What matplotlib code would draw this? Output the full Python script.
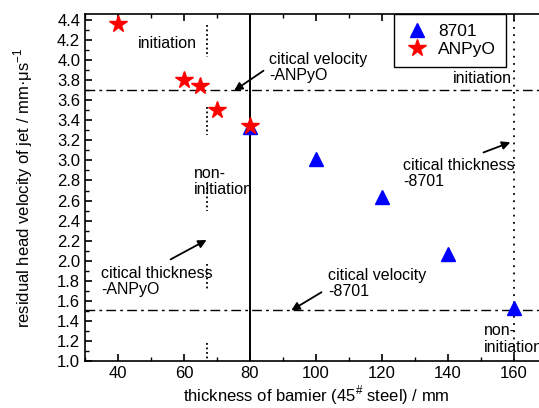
import matplotlib
matplotlib.use("Agg")
import matplotlib.pyplot as plt
from matplotlib.ticker import MultipleLocator

plt.rcParams["font.family"] = ["Liberation Sans", "DejaVu Sans"]
plt.rcParams["mathtext.fontset"] = "custom"
plt.rcParams["mathtext.rm"] = "Liberation Sans"

# data
thick_8701 = [80, 100, 120, 140, 160]
vel_8701 = [3.33, 3.01, 2.64, 2.07, 1.53]
thick_anpyo = [40, 60, 65, 70, 80]
vel_anpyo = [4.36, 3.80, 3.74, 3.50, 3.34]

crit_vel_anpyo = 3.70
crit_vel_8701 = 1.51
crit_thick_anpyo = 67
crit_thick_8701 = 160
solid_x = 80
# visible pieces of the dotted ANPyO thickness line
dotted_pieces = [(4.35, 4.03), (3.53, 3.25), (2.77, 2.50), (1.97, 1.70), (1.18, 1.02)]

fig = plt.figure(figsize=(5.39, 4.08), dpi=100)
ax = fig.add_axes([0.1577, 0.1152, 0.857, 0.8505])

ax.axhline(crit_vel_anpyo, color="black", lw=1.0, dashes=(7, 3, 2, 3))
ax.axhline(crit_vel_8701, color="black", lw=1.0, dashes=(7, 3, 2, 3))
ax.axvline(solid_x, color="black", lw=1.4)
ax.axvline(crit_thick_8701, color="black", lw=1.3, ls=(0, (1, 3)))
for y0, y1 in dotted_pieces:
    ax.plot([crit_thick_anpyo, crit_thick_anpyo], [y0, y1], color="black",
            lw=1.3, ls=(0, (1, 1.5)))

ax.plot(thick_8701, vel_8701, ls="none", marker="^", ms=10, color="blue",
        mec="blue", label="8701", zorder=5)
ax.plot(thick_anpyo, vel_anpyo, ls="none", marker="*", ms=13, color="red",
        mec="red", label="ANPyO", zorder=6)

fs = 11.5
ax.text(46, 4.17, "initiation", fontsize=fs, va="center")
ax.text(85.8, 3.93, "citical velocity\n-ANPyO", fontsize=fs, va="center",
        linespacing=1.1)
ax.text(141.5, 3.82, "initiation", fontsize=fs, va="center")
ax.text(63.0, 2.79, "non-\ninitiation", fontsize=fs, va="center",
        linespacing=1.1)
ax.text(34.8, 1.79, "citical thickness\n-ANPyO", fontsize=fs, va="center",
        linespacing=1.1)
ax.text(126.4, 2.87, "citical thickness\n-8701", fontsize=fs, va="center",
        linespacing=1.1)
ax.text(103.6, 1.77, "citical velocity\n-8701", fontsize=fs, va="center",
        linespacing=1.1)
ax.text(151, 1.22, "non-\ninitiation", fontsize=fs, va="center",
        linespacing=1.1)

arrow = dict(arrowstyle="-|>", color="black", lw=1.3, mutation_scale=12)
ax.annotate("", xy=(74.5, 3.68), xytext=(84.8, 3.91), arrowprops=arrow)
ax.annotate("", xy=(67.6, 2.22), xytext=(55.2, 2.00), arrowprops=arrow)
ax.annotate("", xy=(159.7, 3.19), xytext=(150, 3.07), arrowprops=arrow)
ax.annotate("", xy=(91.8, 1.49), xytext=(102.4, 1.70), arrowprops=arrow)

ax.set_xlim(30, 170)
ax.set_ylim(1.0, 4.46)
ax.xaxis.set_major_locator(MultipleLocator(20))
ax.xaxis.set_minor_locator(MultipleLocator(10))
ax.yaxis.set_major_locator(MultipleLocator(0.2))
ax.yaxis.set_minor_locator(MultipleLocator(0.1))
ax.set_xticks([40, 60, 80, 100, 120, 140, 160])
ax.tick_params(which="both", direction="in", top=True, right=True, labelsize=12)
ax.tick_params(which="major", length=5, width=1.2)
ax.tick_params(which="minor", length=3, width=1.0)
ax.yaxis.set_major_formatter(plt.FormatStrFormatter("%.1f"))
for sp in ax.spines.values():
    sp.set_linewidth(1.2)

ax.set_xlabel("thickness of bamier (45$^{\\#}$ steel) / mm", fontsize=12, labelpad=2)
ax.set_ylabel("residual head velocity of jet / mm·μs$^{-1}$", fontsize=12, labelpad=16)

leg = ax.legend(loc="upper left", bbox_to_anchor=(0.669, 1.0), borderaxespad=0,
                fontsize=12.5, frameon=True, fancybox=False, edgecolor="black",
                handletextpad=0.5, borderpad=0.55, labelspacing=0.2,
                handlelength=1.5, framealpha=1)
leg.get_frame().set_linewidth(1.0)

fig.savefig("out.png", dpi=100)
